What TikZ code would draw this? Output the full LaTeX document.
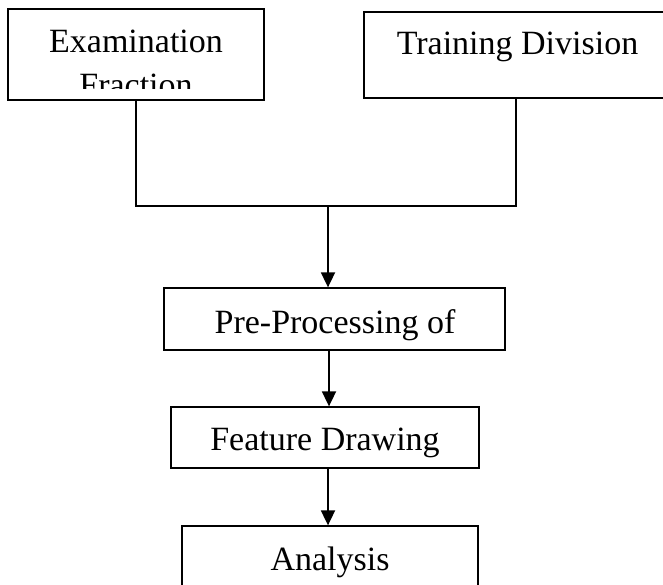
\documentclass[tikz,border=0pt]{standalone}
\usepackage{fontspec}
\setmainfont{Liberation Serif}
\usetikzlibrary{arrows.meta}
\begin{document}
\begin{tikzpicture}[x=1pt,y=-1pt,
  box/.style={draw=black, line width=1.3pt, rectangle, inner sep=0pt, fill=none},
  lbl/.style={font=\fontsize{34}{41}\selectfont, inner sep=0pt, anchor=base},
  link/.style={draw=black, line width=1.3pt},
  flow/.style={draw=black, line width=1.8pt, -{Triangle[width=14pt,length=15pt]}}]
\useasboundingbox (0,0) rectangle (663,585);
% boxes
\node[box, minimum width=256pt, minimum height=91pt] (exam) at (136,54.5) {};
\node[box, minimum width=304pt, minimum height=86pt] (train) at (516,55) {};
\node[box, minimum width=341pt, minimum height=62pt] (pre) at (334.5,319) {};
\node[box, minimum width=308pt, minimum height=61pt] (feat) at (325,437.5) {};
\node[box, minimum width=296pt, minimum height=80pt] (ana) at (330,566) {};
% texts
\node[lbl] (examt) at (136,53) {Examination};
\begin{scope}
  \clip (8,9) rectangle (264,89);
  \node[lbl] (fract) at (136,96.5) {Fraction};
\end{scope}
\node[lbl] (traint) at (517.5,55) {Training Division};
\node[lbl] (pret) at (335,333) {Pre-Processing of};
\node[lbl] (featt) at (325,450) {Feature Drawing};
\node[lbl] (anat) at (330,570) {Analysis};
% connectors
\coordinate (j) at (328,206);
\draw[link] (exam.south) |- (j) -| (train.south);
\draw[flow] (j) -- (j |- pre.north);
\draw[flow] (pre.south -| 329,0) -- (feat.north -| 329,0);
\draw[flow] (feat.south -| 328,0) -- (ana.north -| 328,0);
\end{tikzpicture}
\end{document}
